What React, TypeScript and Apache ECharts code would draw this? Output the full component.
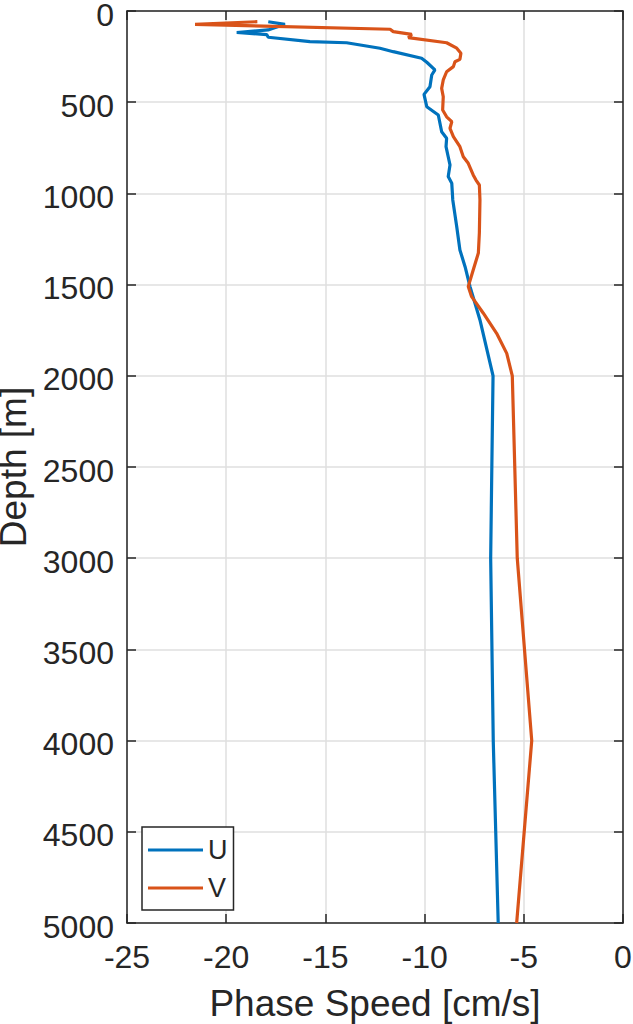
import React, { useEffect, useRef } from "react";
import * as echarts from "echarts";

const xTicks = { min: -25, max: 0, interval: 5 };
const yTicks = { min: 0, max: 5000, interval: 500 };

const seriesNames = ["U", "V"];

const depthU = [58.7, 73, 104, 118, 129, 144, 168, 174, 204, 223, 259, 281, 323, 351, 415, 457, 525, 570, 662, 698, 744, 799, 844, 908, 945, 1036, 1183, 1310, 1402, 1511, 1694, 2000, 2571, 3000, 4000, 5000];
const speedU = [-17.88, -17.04, -17.89, -19.47, -17.96, -17.88, -15.78, -13.93, -12.25, -11.58, -10.15, -9.89, -9.48, -9.64, -9.73, -10.03, -9.89, -9.31, -9.14, -8.89, -8.92, -8.81, -8.72, -8.81, -8.63, -8.58, -8.38, -8.22, -7.96, -7.71, -7.21, -6.55, -6.62, -6.67, -6.54, -6.29];

const depthV = [58.7, 73, 100, 113, 128, 146, 174, 204, 232, 265, 278, 305, 333, 378, 424, 470, 543, 580, 607, 643, 689, 744, 799, 835, 899, 927, 954, 1036, 1217, 1327, 1420, 1511, 1566, 1657, 1767, 1877, 2000, 3000, 4000, 5000];
const speedV = [-18.43, -21.57, -11.74, -11.58, -10.65, -10.82, -8.89, -8.38, -8.17, -8.22, -8.47, -8.55, -8.89, -9.06, -9.14, -9.06, -9.09, -8.89, -8.63, -8.72, -8.55, -8.22, -8.05, -7.8, -7.55, -7.41, -7.24, -7.21, -7.24, -7.29, -7.55, -7.8, -7.63, -7.04, -6.37, -5.86, -5.58, -5.33, -4.6, -5.36];

const colors = ["#0072BD", "#D95319"];
const FONT = "'Liberation Sans', Arial, Helvetica, sans-serif";
const AX = "#262626";

export default function App() {
  const ref = useRef<HTMLDivElement>(null);
  useEffect(() => {
    if (!ref.current) return;
    const chart = echarts.init(ref.current, null, { renderer: "svg" });
    const axisLine = { show: true, onZero: false, lineStyle: { color: AX, width: 1.5 } };
    const axisTick = { show: true, inside: true, length: 9, lineStyle: { color: AX, width: 1.5 } };
    const pairsU = depthU.map((d, i) => [speedU[i], d]);
    const pairsV = depthV.map((d, i) => [speedV[i], d]);
    chart.setOption({
      animation: false,
      backgroundColor: "#ffffff",
      grid: { left: 127, top: 11, width: 496, height: 912, containLabel: false, outerBoundsMode: "none" },
      xAxis: [
        {
          type: "value", ...xTicks, position: "bottom",
          axisLine, axisTick,
          axisLabel: { fontSize: 32, color: AX, margin: 18, fontFamily: FONT, formatter: (v: number) => String(v) },
          splitLine: { show: true, lineStyle: { color: "#dfdfdf", width: 1.5 } },
          name: "Phase Speed [cm/s]", nameLocation: "middle", nameGap: 62,
          nameTextStyle: { fontSize: 37, color: AX, fontFamily: FONT },
        },
        {
          type: "value", ...xTicks, position: "top",
          axisLine, axisTick, axisLabel: { show: false }, splitLine: { show: false },
        },
      ],
      yAxis: [
        {
          type: "value", ...yTicks, inverse: true, position: "left",
          axisLine, axisTick,
          axisLabel: {
            fontSize: 32, color: AX, margin: 13, fontFamily: FONT,
            formatter: (v: number) => "{a|" + String(v) + "}",
            rich: { a: { fontSize: 32, color: AX, fontFamily: FONT, padding: [7, 0, 0, 0] } },
          },
          splitLine: { show: true, lineStyle: { color: "#dfdfdf", width: 1.5 } },
          name: "Depth [m]", nameLocation: "middle", nameGap: 87,
          nameTextStyle: { fontSize: 37, color: AX, fontFamily: FONT },
        },
        {
          type: "value", ...yTicks, inverse: true, position: "right",
          axisLine, axisTick, axisLabel: { show: false }, splitLine: { show: false },
        },
      ],
      legend: {
        data: seriesNames,
        orient: "vertical",
        left: 142, top: 827,
        icon: "rect", itemWidth: 55, itemHeight: 3, itemGap: 8,
        padding: [8, 6, 7, 6],
        borderColor: AX, borderWidth: 1.5, backgroundColor: "#ffffff",
        textStyle: { fontSize: 27, color: AX, fontFamily: FONT, lineHeight: 30 },
      },
      series: [
        {
          name: seriesNames[0], type: "line", data: pairsU, xAxisIndex: 0, yAxisIndex: 0,
          showSymbol: false, symbol: "none", color: colors[0],
          lineStyle: { color: colors[0], width: 3.2 }, z: 2,
        },
        {
          name: seriesNames[1], type: "line", data: pairsV, xAxisIndex: 0, yAxisIndex: 0,
          showSymbol: false, symbol: "none", color: colors[1],
          lineStyle: { color: colors[1], width: 3.2 }, z: 3,
        },
      ],
    });
    return () => chart.dispose();
  }, []);
  return <div ref={ref} style={{ position: "absolute", left: 0, top: 0, width: 633, height: 1024 }} />;
}
